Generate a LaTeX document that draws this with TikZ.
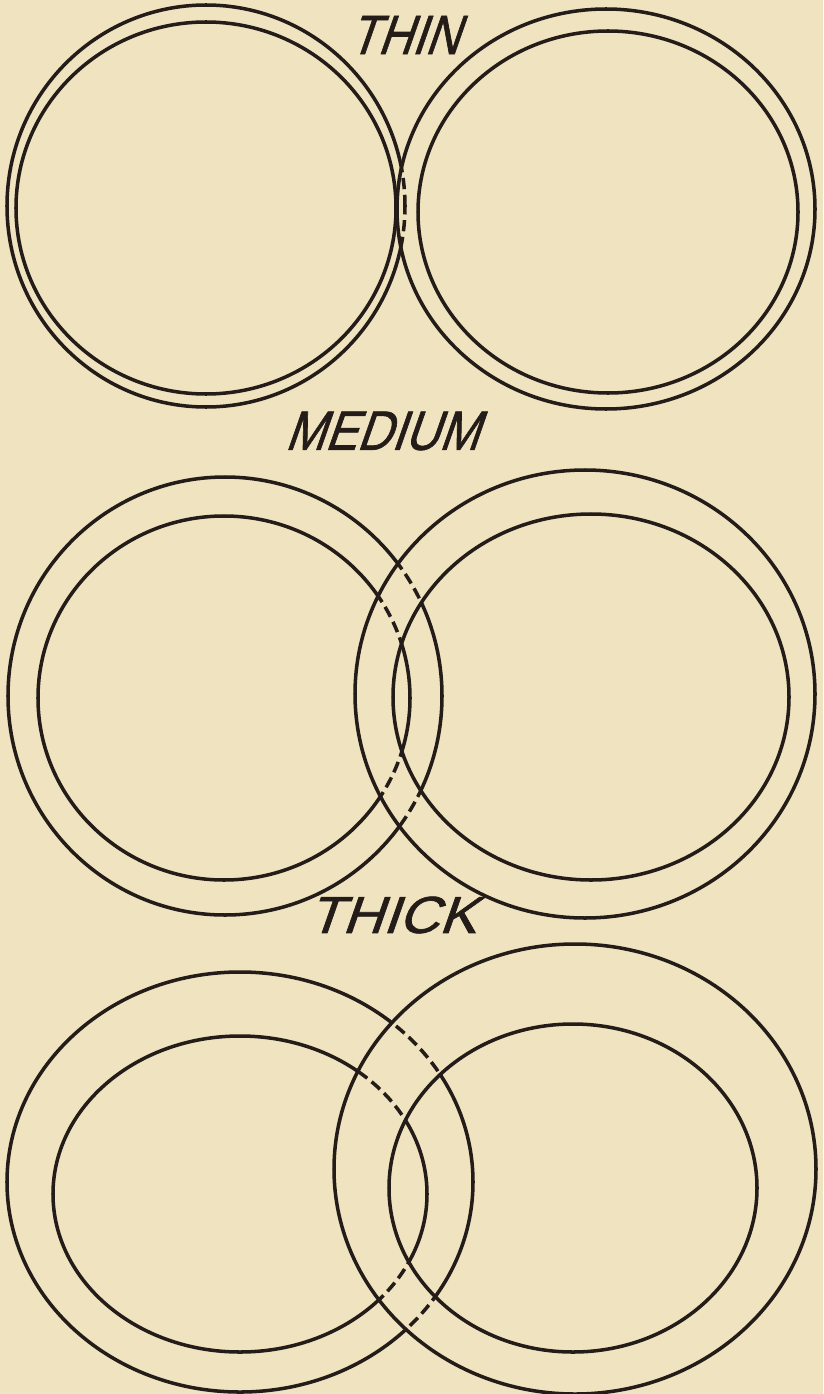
\documentclass[tikz,border=0pt]{standalone}
\usepackage{fontspec}
\setmainfont{Liberation Sans}
\newfontfamily\lblfont[FakeBold=1.3]{Liberation Sans}
\definecolor{paper}{RGB}{240,227,191}
\definecolor{ink}{RGB}{36,28,24}
\tikzset{
  peel/.style={draw=ink, line width=5pt},
  hidden/.style={draw=ink, line width=5pt, dash pattern=on 16pt off 8pt},
  lbl/.style={text=ink, inner sep=0pt, xslant=0.35},
}
\newcommand\fpair{%
  \draw[peel] (\ROx,\ROy) ellipse [x radius=\ROa, y radius=\ROb];
  \draw[peel] (\RIx,\RIy) ellipse [x radius=\RIa, y radius=\RIb];
  \begin{scope}[even odd rule]
    \clip (-20,20) rectangle (843,-1414)
      (\ROx,\ROy) ellipse [x radius=\ROa, y radius=\ROb]
      (\RIx,\RIy) ellipse [x radius=\RIa, y radius=\RIb];
    \draw[peel] (\LOx,\LOy) ellipse [x radius=\LOa, y radius=\LOb];
    \draw[peel] (\LIx,\LIy) ellipse [x radius=\LIa, y radius=\LIb];
  \end{scope}
  \begin{scope}[even odd rule]
    \clip (\ROx,\ROy) ellipse [x radius=\ROa, y radius=\ROb]
      (\RIx,\RIy) ellipse [x radius=\RIa, y radius=\RIb];
    \draw[hidden] (\LOx,\LOy) ellipse [x radius=\LOa, y radius=\LOb];
    \draw[hidden] (\LIx,\LIy) ellipse [x radius=\LIa, y radius=\LIb];
  \end{scope}
}
\begin{document}
\begin{tikzpicture}[x=0.05cm,y=0.05cm]
\fill[paper] (0,0) rectangle (823,-1394);
\useasboundingbox (0,0) rectangle (823,-1394);

% ---------- THIN ----------
\def\LOx{206}\def\LOy{-206}\def\LOa{199}\def\LOb{201}
\def\LIx{206}\def\LIy{-208}\def\LIa{190}\def\LIb{186}
\def\ROx{606}\def\ROy{-209}\def\ROa{209}\def\ROb{200}
\def\RIx{608}\def\RIy{-212}\def\RIa{190}\def\RIb{181}
\fpair
\node[lbl, font=\lblfont\fontsize{79}{79}\selectfont, xscale=0.85] (thin) at (410,-35) {THIN};

% ---------- MEDIUM ----------
\def\LOx{225}\def\LOy{-696}\def\LOa{217}\def\LOb{219}
\def\LIx{224}\def\LIy{-698}\def\LIa{186}\def\LIb{182}
\def\ROx{585}\def\ROy{-694}\def\ROa{230}\def\ROb{224}
\def\RIx{591}\def\RIy{-697}\def\RIa{198}\def\RIb{183}
\fpair
\node[lbl, font=\lblfont\fontsize{79}{79}\selectfont, xscale=0.86] (medium) at (388,-431) {MEDIUM};

% ---------- THICK ----------
\def\LOx{240}\def\LOy{-1182}\def\LOa{233}\def\LOb{210}
\def\LIx{240}\def\LIy{-1194}\def\LIa{187}\def\LIb{158}
\def\ROx{575}\def\ROy{-1169}\def\ROa{241}\def\ROb{225}
\def\RIx{573}\def\RIy{-1188}\def\RIa{184}\def\RIb{164}
\fpair
\node[lbl, font=\lblfont\fontsize{74}{74}\selectfont, xscale=1.08] (thick) at (398,-915) {THICK};
\end{tikzpicture}
\end{document}
